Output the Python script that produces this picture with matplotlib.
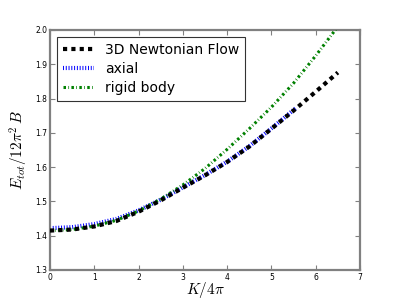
import matplotlib
matplotlib.use('Agg')
import matplotlib.pyplot as plt

# values
k_newton = [0.0, 0.5, 1.0, 1.5, 2.0, 2.5, 3.0, 3.5, 4.0, 4.5, 5.0, 5.5, 6.0, 6.5]
e_newton = [1.415, 1.418, 1.427, 1.443, 1.470, 1.503, 1.540, 1.576, 1.615,
            1.660, 1.712, 1.765, 1.820, 1.876]

k_axial = [0.0, 0.5, 1.0, 1.5, 2.0, 2.5, 3.0, 3.5, 4.0, 4.5, 5.0, 5.55]
e_axial = [1.422, 1.425, 1.434, 1.449, 1.474, 1.505, 1.541, 1.577, 1.616,
           1.661, 1.713, 1.772]

k_rigid = [0.0, 0.5, 1.0, 1.5, 2.0, 2.5, 3.0, 3.5, 4.0, 4.5, 5.0, 5.5, 6.0, 6.5]
e_rigid = [1.415, 1.418, 1.428, 1.445, 1.472, 1.507, 1.548, 1.596, 1.652,
           1.712, 1.775, 1.845, 1.925, 2.01]

plt.rcParams['lines.scale_dashes'] = False
plt.rcParams['mathtext.fontset'] = 'cm'

fig = plt.figure(figsize=(4, 3), dpi=100)
ax = fig.add_axes([0.125, 0.1, 0.775, 0.8])

ax.plot(k_newton, e_newton, color='black', lw=3, dashes=(3, 3),
        label='3D Newtonian Flow', zorder=4)
ax.plot(k_axial, e_axial, color='blue', lw=3, dashes=(0.7, 1.3),
        label='axial', zorder=2)
ax.plot(k_rigid, e_rigid, color='green', lw=2.2, dashes=(1.8, 1.7, 0.5, 1.7),
        label='rigid body', zorder=3)

ax.set_xlim(0, 7)
ax.set_ylim(1.3, 2.0)
ax.set_xticks(range(0, 8))
ax.set_yticks([1.3, 1.4, 1.5, 1.6, 1.7, 1.8, 1.9, 2.0])
ax.tick_params(direction='in', top=True, right=True, length=3.5,
               labelsize=5.5, color='#808080', pad=2)
for sp in ax.spines.values():
    sp.set_color('#808080')
    sp.set_linewidth(1.6)

ax.set_xlabel(r'$K/4\pi$', fontsize=11, labelpad=-1)
ax.set_ylabel(r'$E_{tot}/12\pi^2\,B$', fontsize=11, labelpad=4)

leg = ax.legend(loc='upper left', fontsize=10, fancybox=False,
                handlelength=2.2, borderpad=0.45, labelspacing=0.35)
leg.get_frame().set_edgecolor('black')
leg.get_frame().set_linewidth(0.8)

fig.savefig('out.png', dpi=100)
